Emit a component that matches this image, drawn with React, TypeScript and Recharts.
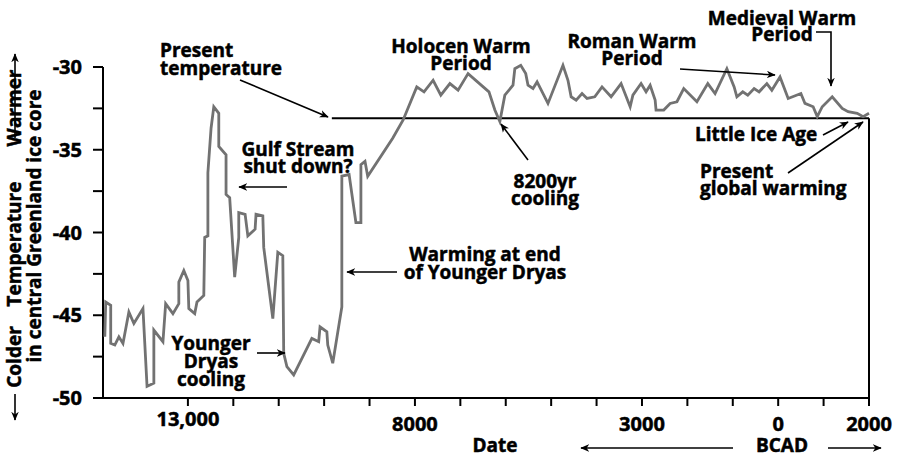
import { LineChart, Line, XAxis, YAxis, ReferenceLine } from 'recharts'

// years: negative = BC, positive = AD
const years = [
  -14830, -14810, -14700, -14700, -14610, -14520, -14430, -14300, -14190, -13990,
  -13900, -13750, -13750, -13550, -13490, -13330, -13200, -13200, -13090, -13000,
  -12980, -12850, -12800, -12650, -12630, -12560, -12560, -12490, -12430, -12320,
  -12320, -12160, -12160, -12080, -11970, -11880, -11880, -11740, -11680, -11520,
  -11500, -11350, -11330, -11130, -11020, -10910, -10890, -10820, -10670, -10270,
  -10120, -10090, -9940, -9920, -9810, -9610, -9610, -9450, -9300, -9190,
  -9190, -9100, -9040, -8490, -8260, -7960, -7800, -7600, -7430, -7230,
  -7050, -6830, -6370, -6240, -6130, -6020, -5840, -5800, -5670, -5560,
  -5510, -5400, -5310, -5070, -4740, -4630, -4560, -4450, -4320, -4210,
  -4040, -3880, -3680, -3460, -3260, -3200, -3020, -2910, -2820, -2710,
  -2690, -2520, -2380, -2230, -2080, -1790, -1550, -1390, -1130, -970,
  -910, -780, -670, -530, -420, -250, -140, 40, 220, 500,
  590, 770, 860, 970, 1190, 1410, 1540, 1740, 1870, 2000,
]

const temps = [
  -46.3, -44.2, -44.4, -46.7, -46.8, -46.3, -46.7, -44.8, -45.5, -44.6,
  -49.3, -49.1, -45.9, -46.6, -44.3, -44.9, -44.3, -43.0, -42.3, -42.9,
  -44.6, -44.9, -44.2, -43.8, -40.3, -40.2, -36.4, -33.7, -32.4, -32.8,
  -34.8, -35.3, -37.7, -37.9, -42.7, -40.3, -38.8, -38.9, -40.2, -39.8,
  -38.9, -39.0, -40.9, -45.2, -41.2, -41.4, -47.3, -48.1, -48.6, -46.4,
  -46.6, -45.7, -46.0, -46.8, -47.9, -44.5, -36.6, -36.5, -39.4, -39.4,
  -35.9, -35.7, -36.6, -34.3, -33.2, -31.2, -31.5, -30.8, -31.7, -31.0,
  -31.4, -30.4, -31.5, -32.6, -33.3, -31.7, -31.1, -30.1, -29.9, -30.4,
  -31.1, -31.3, -30.9, -32.2, -29.9, -30.8, -31.8, -32.0, -31.6, -31.9,
  -31.8, -31.2, -31.8, -31.0, -32.4, -31.7, -31.0, -31.5, -31.1, -32.0,
  -32.6, -32.6, -32.2, -32.1, -31.3, -32.1, -31.0, -31.6, -30.1, -31.2,
  -31.8, -31.5, -31.7, -31.3, -31.5, -31.0, -31.4, -30.6, -31.9, -31.6,
  -32.2, -32.4, -33.0, -32.4, -31.8, -32.5, -32.7, -32.8, -33.0, -32.8,
]

const xTicks = [
  -13000, -12000, -11000, -10000, -9000, -8000, -7000, -6000,
  -5000, -4000, -3000, -2000, -1000, 0, 1000, 2000,
]
const xTickLabels: Record<number, string> = {
  [-13000]: '13,000',
  [-8000]: '8000',
  [-3000]: '3000',
  [0]: '0',
  [2000]: '2000',
}
const yTicks = [-50, -47.5, -45, -42.5, -40, -37.5, -35, -32.5, -30]

const presentTemp = -33.1
const presentLineStart = -9830
const xMin = -14870
const xMax = 2000

const data = years.map((year, i) => ({ year, temp: temps[i] }))

const FONT = '"Open Sans", "DejaVu Sans", sans-serif'
// a thin outline makes Open Sans Bold look closer to the heavier original face
const textStyle = {
  fontFamily: FONT,
  fontWeight: 700,
  fontSize: 19,
  fill: '#000',
  stroke: '#000',
  strokeWidth: 0.5,
}

function XTick(props: any) {
  const { x, y, payload } = props
  const label = xTickLabels[payload.value] ?? ''
  const dy = payload.value === -13000 ? 9 : 14
  return (
    <text x={x} y={y} dy={dy} textAnchor="middle" style={{ ...textStyle, fontSize: 20 }}>
      {label}
    </text>
  )
}

function YTick(props: any) {
  const { x, y, payload } = props
  const label = payload.value % 5 === 0 ? String(payload.value) : ''
  return (
    <text x={x} y={y} dy={7} textAnchor="end" style={{ ...textStyle, fontSize: 20 }}>
      {label}
    </text>
  )
}

function Lines({ x, ys, lines, anchor }: { x: number; ys: number[]; lines: string[]; anchor: string }) {
  return (
    <text textAnchor={anchor as any} style={textStyle}>
      {lines.map((l, i) => (
        <tspan key={i} x={x} y={ys[i]}>
          {l}
        </tspan>
      ))}
    </text>
  )
}

function Arrow({ x1, y1, x2, y2 }: { x1: number; y1: number; x2: number; y2: number }) {
  return <line x1={x1} y1={y1} x2={x2} y2={y2} stroke="#000" strokeWidth={1.6} markerEnd="url(#ah)" />
}

function Annotations() {
  return (
    <svg
      width={897}
      height={459}
      style={{ position: 'absolute', left: 0, top: 0, pointerEvents: 'none' }}
    >
      <defs>
        <marker id="ah" viewBox="0 0 12 10" refX="11" refY="5" markerWidth="9" markerHeight="8" orient="auto" markerUnits="userSpaceOnUse">
          <path d="M0,0 L12,5 L0,10 L3.5,5 z" fill="#000" />
        </marker>
      </defs>

      {/* y axis title */}
      <text transform="translate(21,357) rotate(-90)" textAnchor="middle" style={textStyle}>Colder</text>
      <text transform="translate(21,244) rotate(-90)" textAnchor="middle" style={textStyle}>Temperature</text>
      <text transform="translate(21,108) rotate(-90)" textAnchor="middle" style={textStyle}>Warmer</text>
      <text transform="translate(41,226) rotate(-90)" textAnchor="middle" style={textStyle}>in central Greenland ice core</text>
      <Arrow x1={15} y1={394} x2={15} y2={420} />
      <Arrow x1={15} y1={138} x2={15} y2={54} />

      <Lines x={160} ys={[57, 75]} lines={['Present', 'temperature']} anchor="start" />
      <Arrow x1={240} y1={80} x2={328} y2={117} />

      <Lines x={298} ys={[156, 173]} lines={['Gulf Stream', 'shut down?']} anchor="middle" />
      <Arrow x1={287} y1={187} x2={239} y2={187} />

      <Lines x={461} ys={[53, 70]} lines={['Holocen Warm', 'Period']} anchor="middle" />

      <Lines x={545} ys={[188, 205]} lines={['8200yr', 'cooling']} anchor="middle" />
      <Arrow x1={528} y1={160} x2={501} y2={124} />

      <Lines x={632} ys={[48, 65]} lines={['Roman Warm', 'Period']} anchor="middle" />
      <Arrow x1={680} y1={69} x2={775} y2={75} />

      <Lines x={782} ys={[25, 41]} lines={['Medieval Warm', 'Period']} anchor="middle" />
      <polyline points="816,32 831,32 831,86" fill="none" stroke="#000" strokeWidth={1.6} markerEnd="url(#ah)" />

      <Lines x={695} ys={[141]} lines={['Little Ice Age']} anchor="start" />
      <Arrow x1={823} y1={135} x2={848} y2={122} />

      <Lines x={700} ys={[178, 195]} lines={['Present', 'global warming']} anchor="start" />
      <Arrow x1={788} y1={173} x2={863} y2={122} />

      <Lines x={485} ys={[261, 279]} lines={['Warming at end', 'of Younger Dryas']} anchor="middle" />
      <Arrow x1={397} y1={272} x2={347} y2={272} />

      <Lines x={211} ys={[350, 368, 386]} lines={['Younger', 'Dryas', 'cooling']} anchor="middle" />
      <Arrow x1={257} y1={353} x2={285} y2={353} />

      <Lines x={495} ys={[452]} lines={['Date']} anchor="middle" />
      <Lines x={782} ys={[452]} lines={['BCAD']} anchor="middle" />
      <Arrow x1={733} y1={448} x2={581} y2={448} />
      <Arrow x1={828} y1={448} x2={881} y2={448} />
    </svg>
  )
}

export default function App() {
  return (
    <div style={{ position: 'absolute', left: 0, top: 0, width: 897, height: 459, background: '#fff' }}>
      <LineChart
        width={897}
        height={459}
        data={data}
        margin={{ top: 50.45, right: 28, bottom: 0, left: 0 }}
      >
        <XAxis
          type="number"
          dataKey="year"
          domain={[xMin, xMax]}
          ticks={xTicks}
          interval={0}
          height={61}
          tickSize={8}
          tickMargin={11}
          axisLine={{ stroke: '#000', strokeWidth: 2 }}
          tickLine={{ stroke: '#000', strokeWidth: 2 }}
          tick={<XTick />}
        />
        <YAxis
          type="number"
          domain={[-50, -29]}
          ticks={yTicks}
          interval={0}
          width={103}
          tickSize={10}
          tickMargin={11}
          axisLine={false}
          tickLine={{ stroke: '#000', strokeWidth: 2 }}
          tick={<YTick />}
        />
        <ReferenceLine
          segment={[{ x: xMin, y: -50 }, { x: xMin, y: -30 }]}
          stroke="#000"
          strokeWidth={2}
        />
        <ReferenceLine
          segment={[{ x: presentLineStart, y: presentTemp }, { x: xMax, y: presentTemp }]}
          stroke="#000"
          strokeWidth={2}
        />
        <ReferenceLine
          segment={[{ x: xMax, y: presentTemp }, { x: xMax, y: -50 }]}
          stroke="#000"
          strokeWidth={2}
        />
        <Line
          type="linear"
          dataKey="temp"
          stroke="#727272"
          strokeWidth={2.8}
          dot={false}
          isAnimationActive={false}
        />
      </LineChart>
      <Annotations />
    </div>
  )
}
